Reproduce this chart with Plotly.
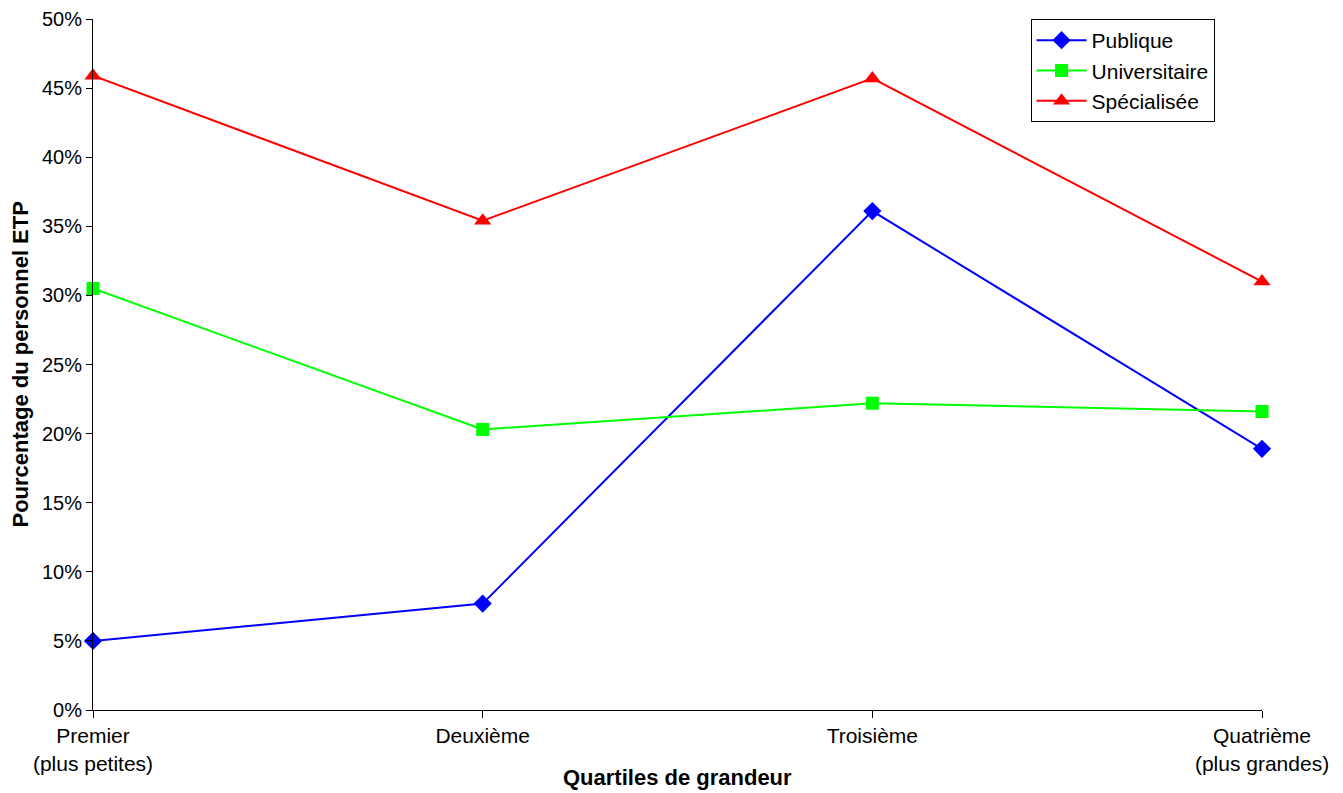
import plotly.graph_objects as go

categories = ["Premier<br>(plus petites)", "Deuxième", "Troisième", "Quatrième<br>(plus grandes)"]
publique = [0.050, 0.077, 0.361, 0.189]
universitaire = [0.305, 0.203, 0.222, 0.216]
specialisee = [0.459, 0.354, 0.457, 0.310]
y_ticks = [0, 0.05, 0.10, 0.15, 0.20, 0.25, 0.30, 0.35, 0.40, 0.45, 0.50]

xpos = list(range(len(categories)))
FONT = "Liberation Sans, Arial, sans-serif"

fig = go.Figure()
series = [
    ("Publique", publique, "#0000FF", "diamond", 14),
    ("Universitaire", universitaire, "#00FF00", "square", 13),
    ("Spécialisée", specialisee, "#FF0000", "triangle-up", 15),
]
for name, vals, col, sym, sz in series:
    fig.add_trace(go.Scatter(
        x=xpos, y=vals, name=name, mode="lines+markers",
        line=dict(color=col, width=2),
        marker=dict(symbol=sym, size=sz, color=col),
        cliponaxis=False,
    ))

axis_common = dict(showgrid=False, zeroline=False, automargin=False, ticklabeloverflow="allow")

fig.update_layout(
    width=1335, height=785,
    margin=dict(l=85, r=81, t=11, b=83),
    plot_bgcolor="white", paper_bgcolor="white",
    font=dict(family=FONT, size=21, color="black"),
    showlegend=True,
    legend=dict(
        x=0.802, y=1.0, xanchor="left", yanchor="top",
        bgcolor="white", bordercolor="black", borderwidth=1,
        font=dict(size=21), tracegroupgap=0, itemwidth=50,
    ),
    xaxis=dict(
        range=[0, 3], tickvals=xpos, ticktext=categories,
        showline=True, linecolor="black", linewidth=1,
        ticks="outside", ticklen=7, tickcolor="black",
        **axis_common,
    ),
    xaxis2=dict(
        range=[0, 3], tickvals=xpos, overlaying="x", side="bottom",
        showticklabels=False, showline=False,
        ticks="inside", ticklen=7, tickcolor="black", anchor="y",
        **axis_common,
    ),
    yaxis=dict(
        range=[0, 0.5], tickvals=y_ticks, tickformat=".0%",
        showline=True, linecolor="black", linewidth=1,
        ticks="outside", ticklen=6, tickcolor="black",
        tickfont=dict(size=20),
        **axis_common,
    ),
    yaxis2=dict(
        range=[0, 0.5], tickvals=y_ticks, overlaying="y", side="left",
        showticklabels=False, showline=False,
        ticks="inside", ticklen=5, tickcolor="black", anchor="x",
        **axis_common,
    ),
    annotations=[
        dict(text="<b>Quartiles de grandeur</b>", xref="paper", yref="paper",
             x=0.5, y=0, xanchor="center", yanchor="middle", yshift=-67,
             showarrow=False, font=dict(size=22)),
        dict(text="<b>Pourcentage du personnel ETP</b>", xref="paper", yref="paper",
             x=0, y=0.5, xanchor="center", yanchor="middle", xshift=-73,
             textangle=-90, showarrow=False, font=dict(size=22)),
    ],
)

fig.write_html("out.html")
